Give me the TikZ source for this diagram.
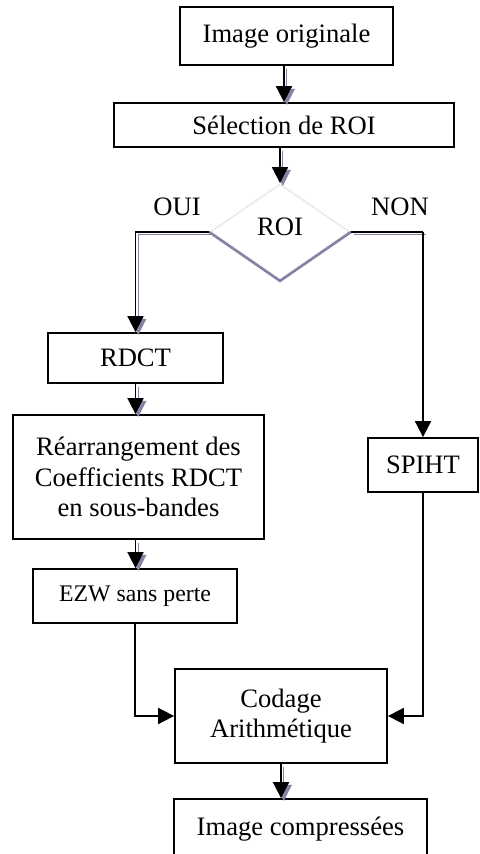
\documentclass[tikz,border=0pt]{standalone}
\usepackage{fontspec}
\setmainfont{Liberation Serif}
\usetikzlibrary{shapes,shapes.geometric,arrows.meta,calc,positioning}
\definecolor{ombre}{RGB}{140,128,165}

\begin{document}
\begin{tikzpicture}[%
x=0.5pt, y=-0.5pt,
>={Triangle[length=8pt,width=8pt]},
line width=0.9pt,
box/.style={draw, rectangle, inner sep=0pt, align=center, font=\fontsize{13.3}{15.3}\selectfont},
ombree/.style={preaction={draw=ombre, line width=0.6pt, transform canvas={xshift=1.4pt,yshift=-1.4pt}}}
]
\useasboundingbox (0,0) rectangle (479,854);

\node[box, minimum width=106.5pt, minimum height=29pt] (orig) at (286.5,36) {Image originale};
\node[box, minimum width=170pt, minimum height=22pt] (sel) at (284,125) {S\'election de ROI};
\node[diamond, draw=black!8, minimum width=70pt, minimum height=48pt, inner sep=0pt,
      text depth=5pt, font=\fontsize{13.3}{15.3}\selectfont] (roi) at (280,232) {ROI};
\node[box, minimum width=87.5pt, minimum height=25pt] (rdct) at (135.5,358) {RDCT};
\node[box, minimum width=125.5pt, minimum height=62pt] (rearr) at (138.5,477)
  {R\'earrangement des\\Coefficients RDCT\\en sous-bandes};
\node[box, minimum width=102pt, minimum height=27pt, font=\fontsize{11.9}{14}\selectfont] (ezw) at (135,596) {EZW sans perte};
\node[box, minimum width=55pt, minimum height=27pt] (spiht) at (423,465) {SPIHT};
\node[box, minimum width=106pt, minimum height=47pt] (codage) at (281,716) {Codage\\Arithm\'etique};
\node[box, minimum width=126.5pt, minimum height=30pt] (comp) at (300.5,829) {Image compress\'ees};

% labels of the test
\node[font=\fontsize{13.3}{15.3}\selectfont] (oui) at (177,207) {OUI};
\node[font=\fontsize{13.3}{15.3}\selectfont] (non) at (400,207) {NON};

% shadow under the diamond
\draw[ombre, line width=1.3pt] (roi.west) -- (roi.south) -- (roi.east);

% main chain
\draw[->, ombree] (orig.south -| sel.north) -- (sel.north);
\draw[->, ombree] (sel.south -| roi.north) -- (roi.north);
\draw[->, ombree] (roi.west) -| (rdct.north);
\draw[ombree] (roi.east) -- (roi.east -| spiht.north);
\draw[->] (roi.east -| spiht.north) -- (spiht.north);
\draw[->, ombree] (rdct.south) -- (rdct.south |- rearr.north);
\draw[->, ombree] (rearr.south -| rdct.south) -- (rdct.south |- ezw.north);
\draw[->] (ezw.south) |- (codage.west);
\draw[->] (spiht.south) |- (codage.east);
\draw[->, ombree] (codage.south) -- (codage.south |- comp.north);
\end{tikzpicture}
\end{document}
